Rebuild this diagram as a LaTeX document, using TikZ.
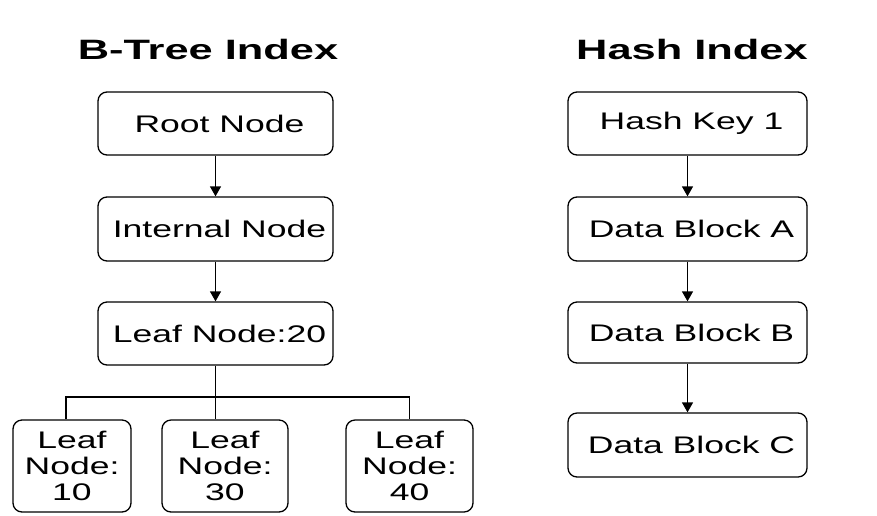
\documentclass[tikz,border=0pt]{standalone}
\usepackage{fontspec}
\setmainfont{Liberation Sans}[FakeStretch=1.48]
\newfontfamily\titlefont{Liberation Sans}[FakeStretch=1.55]
\usetikzlibrary{arrows.meta}
\begin{document}
\begin{tikzpicture}[x=1pt,y=-1pt,
  box/.style={draw, rounded corners=9pt, line width=1.3pt, inner sep=0pt,
    align=center, font=\fontsize{24}{26}\selectfont},
  onerow/.style={box, execute at begin node={\hspace*{8pt}}},
  title/.style={anchor=base, font=\titlefont\bfseries\fontsize{28}{30}\selectfont},
  link/.style={line width=1.3pt, -{Triangle[length=10pt,width=11pt]}},
  wire/.style={line width=1.3pt}]
\useasboundingbox (0,0) rectangle (877,515);

% titles
\node[title] (tb) at (208,59) {B-Tree Index};
\node[title] (th) at (692,59) {Hash Index};

% B-tree column
\node[onerow, minimum width=235pt, minimum height=63pt] (root) at (215.5,123.5) {Root Node};
\node[onerow, minimum width=235pt, minimum height=64pt] (internal) at (215.5,229) {Internal Node};
\node[onerow, minimum width=235pt, minimum height=63pt] (leaf20) at (215.5,333.5) {Leaf Node:20};

\node[box, minimum width=118pt, minimum height=92pt] (l10) at (72,466) {Leaf\\Node:\\10};
\node[box, minimum width=126pt, minimum height=92pt] (l30) at (225,466) {Leaf\\Node:\\30};
\node[box, minimum width=127pt, minimum height=92pt] (l40) at (409.5,466) {Leaf\\Node:\\40};

\draw[link] (root) -- (internal);
\draw[link] (internal) -- (leaf20);

\coordinate (bar) at (215.5,397);
\coordinate (d10) at ([xshift=-6pt]l10.north);
\draw[wire] (leaf20.south) -- (l30.north -| leaf20.south);
\draw[wire] (d10) |- (bar) -| (l40.north);

% hash column
\node[onerow, minimum width=239pt, minimum height=63pt] (hk) at (687.5,123.5) {Hash Key 1};
\node[onerow, minimum width=239pt, minimum height=64pt] (da) at (687.5,229) {Data Block A};
\node[onerow, minimum width=239pt, minimum height=61pt] (db) at (687.5,332.5) {Data Block B};
\node[onerow, minimum width=239pt, minimum height=64pt] (dc) at (687.5,445) {Data Block C};

\draw[link] (hk) -- (da);
\draw[link] (da) -- (db);
\draw[link] (db) -- (dc);
\end{tikzpicture}
\end{document}
